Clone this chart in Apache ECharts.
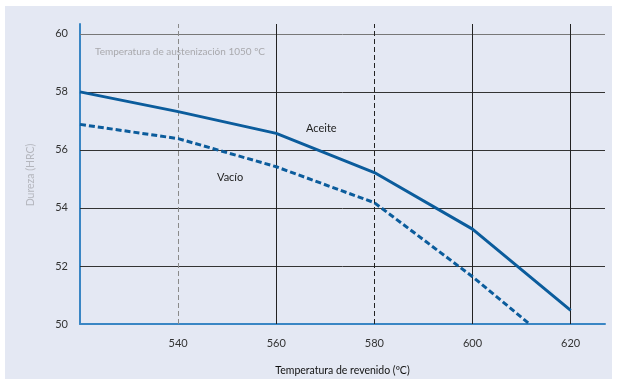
<!DOCTYPE html>
<html><head><meta charset="utf-8">
<script src="https://cdn.jsdelivr.net/npm/echarts@6/dist/echarts.min.js"></script>
<style>html,body{margin:0;padding:0;background:#fff}#c{width:617px;height:381px}</style>
</head><body><div id="c"></div>
<script>
const aceiteX = [520, 540, 560, 580, 600, 620];
const aceiteY = [58.0, 57.32, 56.57, 55.22, 53.27, 50.47];
const vacioX = [520, 540, 560, 580, 600, 611.6];
const vacioY = [56.88, 56.39, 55.42, 54.18, 51.63, 50.0];
const yTicks = [52, 54, 56, 58, 60];
const xGrid = [540, 560, 580, 600, 620];
const xTickLabels = [540, 560, 580, 600, 620];
const yTickLabels = [50, 52, 54, 56, 58, 60];

const chart = echarts.init(document.getElementById('c'), null, {renderer: 'canvas'});
const font = 'Lato';
const xGridStyle = {
  540: {color: '#8a8a8a', type: [5, 3], width: 1},
  560: {color: '#222', type: 'solid', width: 1},
  580: {color: '#222', type: [5, 3], width: 1},
  600: {color: '#222', type: 'solid', width: 1},
  620: {color: '#222', type: 'solid', width: 1}
};
const gridLines = [];
yTicks.forEach(v => gridLines.push({yAxis: v, lineStyle: {color: v === 60 ? '#777' : '#333', width: 1, type: 'solid'}}));
xGrid.forEach(v => gridLines.push({xAxis: v, lineStyle: xGridStyle[v]}));

chart.setOption({
  backgroundColor: '#fff',
  animation: false,
  graphic: [
    {type: 'rect', z: -10, shape: {x: 5, y: 6, width: 607, height: 373}, style: {fill: '#e4e8f3'}, silent: true},
    {type: 'text', left: 95, top: 47, z: 10, style: {text: 'Temperatura de austenización 1050 ºC', fill: '#a9a9ad', font: '10px Lato'}},
    {type: 'text', left: 306, top: 123, z: 10, style: {text: 'Aceite', fill: '#222', font: '11px Lato'}},
    {type: 'text', left: 217, top: 172, z: 10, style: {text: 'Vacío', fill: '#222', font: '11px Lato'}},
    {type: 'text', x: 31, y: 175, rotation: Math.PI / 2, z: 10,
      style: {text: 'Dureza (HRC)', fill: '#b4b6bd', font: '10.5px Lato', align: 'center', verticalAlign: 'middle'}}
  ],
  grid: {left: 80, right: 12, top: 24, bottom: 55, containLabel: false},
  xAxis: {
    type: 'value', min: 520, max: 627, interval: 20,
    name: 'Temperatura de revenido (ºC)', nameLocation: 'middle', nameGap: 41,
    nameTextStyle: {color: '#111', fontFamily: font, fontSize: 10.5},
    axisLine: {show: true, lineStyle: {color: '#3a86c4', width: 2}},
    axisTick: {show: false},
    splitLine: {show: false},
    axisLabel: {color: '#333', fontFamily: font, fontSize: 11, margin: 14,
      formatter: v => xTickLabels.includes(v) ? String(v) : ''}
  },
  yAxis: {
    type: 'value', min: 50, max: 60.34, interval: 2,
    axisLine: {show: true, onZero: false, lineStyle: {color: '#3a86c4', width: 2}},
    axisTick: {show: false},
    splitLine: {show: false},
    axisLabel: {color: '#333', fontFamily: font, fontSize: 11, margin: 12,
      formatter: v => yTickLabels.includes(v) ? String(v) : ''}
  },
  series: [
    {type: 'line', data: [], z: 1, silent: true,
      markLine: {silent: true, symbol: 'none', label: {show: false}, animation: false, data: gridLines}},
    {name: 'Aceite', type: 'line', z: 5, showSymbol: false, symbol: 'none',
      data: aceiteX.map((x, i) => [x, aceiteY[i]]),
      lineStyle: {color: '#0b5c9c', width: 3}},
    {name: 'Vacío', type: 'line', z: 5, showSymbol: false, symbol: 'none',
      data: vacioX.map((x, i) => [x, vacioY[i]]),
      lineStyle: {color: '#0b5c9c', width: 3, type: [6, 3]}}
  ]
});
</script></body></html>
